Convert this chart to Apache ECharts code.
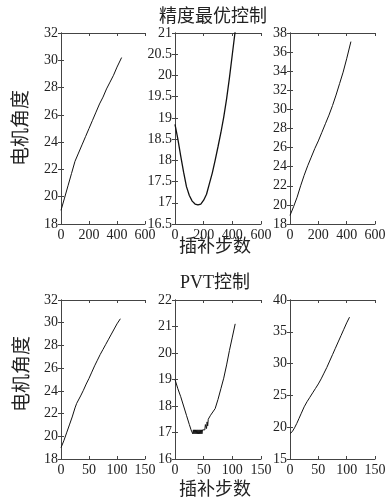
<!DOCTYPE html>
<html>
<head>
<meta charset="utf-8">
<style>
  html, body { margin: 0; padding: 0; background: #fff; }
  #chart { width: 389px; height: 504px; }
</style>
<script src="https://cdn.jsdelivr.net/npm/echarts@6/dist/echarts.min.js"></script>
</head>
<body>
<div id="chart"></div>
<script>
// 精度最优控制 (top row), x = 插补步数 0..600
const topSteps1 = [0, 25, 50, 75, 100, 125, 150, 175, 200, 225, 250, 275, 300, 325, 350, 375, 400, 433]
const topAngle1 = [19.0, 19.9, 20.8, 21.7, 22.6, 23.2, 23.8, 24.4, 25.0, 25.6, 26.2, 26.8, 27.3, 27.9, 28.4, 28.9, 29.5, 30.2]

const topSteps2 = [0, 20, 40, 60, 80, 100, 120, 140, 160, 180, 200, 220, 240, 260, 280, 300, 320, 340, 360, 380, 400, 420, 433]
const topAngle2 = [18.85, 18.5, 18.1, 17.72, 17.38, 17.17, 17.04, 16.97, 16.95, 16.97, 17.06, 17.2, 17.45, 17.7, 18.0, 18.32, 18.65, 19.02, 19.45, 19.95, 20.5, 21.05, 21.4]

const topSteps3 = [0, 25, 50, 75, 100, 125, 150, 175, 200, 225, 250, 275, 300, 325, 350, 375, 400, 430]
const topAngle3 = [18.9, 19.8, 20.8, 22.0, 23.1, 24.1, 25.0, 25.9, 26.7, 27.6, 28.5, 29.4, 30.4, 31.5, 32.7, 33.9, 35.3, 37.1]

// PVT控制 (bottom row), x = 插补步数 0..150
const pvtSteps1 = [0, 5, 10, 15, 20, 25, 28, 30, 35, 40, 45, 50, 55, 60, 65, 70, 75, 80, 85, 90, 95, 100, 106]
const pvtAngle1 = [19.0, 19.6, 20.3, 21.0, 21.7, 22.5, 22.9, 23.05, 23.55, 24.05, 24.6, 25.1, 25.65, 26.2, 26.7, 27.2, 27.65, 28.1, 28.55, 29.0, 29.45, 29.9, 30.35]

const pvtSteps2 = [0, 5, 10, 15, 20, 25, 28, 30, 31, 32, 33, 34, 35, 36, 37, 38, 39, 40, 41, 42, 43, 44, 45, 46, 47, 48, 50, 52, 53, 55, 56, 57, 58, 60, 62, 65, 70, 75, 80, 85, 90, 95, 100, 105]
const pvtAngle2 = [19.0, 18.65, 18.35, 18.0, 17.65, 17.3, 17.1, 17.1, 16.95, 17.1, 16.95, 17.1, 16.95, 17.1, 16.95, 17.1, 16.95, 17.1, 16.95, 17.1, 16.95, 17.1, 16.95, 17.1, 16.95, 17.1, 17.1, 17.1, 17.3, 17.15, 17.4, 17.25, 17.5, 17.5, 17.65, 17.7, 17.9, 18.25, 18.65, 19.05, 19.55, 20.1, 20.6, 21.1]

const pvtSteps3 = [0, 4, 8, 12, 16, 20, 25, 30, 35, 40, 45, 50, 55, 60, 65, 70, 75, 80, 85, 90, 95, 100, 105]
const pvtAngle3 = [19.0, 19.3, 19.9, 20.6, 21.4, 22.2, 23.2, 24.0, 24.7, 25.4, 26.1, 26.8, 27.6, 28.5, 29.4, 30.4, 31.4, 32.4, 33.4, 34.4, 35.4, 36.4, 37.3]

// y axis ranges per panel: [min, max, interval]
const yRanges = [
  [18, 32, 2], [16.5, 21, 0.5], [18, 38, 2],
  [18, 32, 2], [16, 22, 1], [15, 40, 5],
]
const xRanges = [[0, 600, 200], [0, 150, 50]]

const curves = [
  [topSteps1, topAngle1], [topSteps2, topAngle2], [topSteps3, topAngle3],
  [pvtSteps1, pvtAngle1], [pvtSteps2, pvtAngle2], [pvtSteps3, pvtAngle3],
]

const chart = echarts.init(document.getElementById('chart'))

const lefts = [61, 175, 290]
const widths = [84, 86, 85]
const rows = [{ top: 33, height: 191 }, { top: 300, height: 159 }]

const frameColor = '#444'
const textColor = '#222'
const serif = '"Liberation Serif", "Times New Roman", serif'
const cjk = '"Noto Sans CJK SC", sans-serif'

const grid = []
const xAxis = []
const yAxis = []
const series = []

for (let i = 0; i < 6; i++) {
  const r = Math.floor(i / 3)
  const c = i % 3
  grid.push({ left: lefts[c], width: widths[c], top: rows[r].top, height: rows[r].height })

  const [xmin, xmax, xint] = xRanges[r]
  const [ymin, ymax, yint] = yRanges[i]
  const tick = { show: true, inside: true, length: 3, lineStyle: { color: frameColor } }
  const line = { show: true, lineStyle: { color: frameColor, width: 1 } }
  const label = { color: textColor, fontFamily: serif, fontSize: 14 }

  // bottom / left axes carry labels, top / right only close the box
  xAxis.push({ gridIndex: i, type: 'value', min: xmin, max: xmax, interval: xint, position: 'bottom',
    axisLine: line, axisTick: tick, splitLine: { show: false },
    axisLabel: Object.assign({ margin: 4 }, label) })
  xAxis.push({ gridIndex: i, type: 'value', min: xmin, max: xmax, interval: xint, position: 'top',
    axisLine: line, axisTick: tick, splitLine: { show: false }, axisLabel: { show: false } })
  yAxis.push({ gridIndex: i, type: 'value', min: ymin, max: ymax, interval: yint, position: 'left',
    axisLine: line, axisTick: tick, splitLine: { show: false },
    axisLabel: Object.assign({ margin: 3 }, label) })
  yAxis.push({ gridIndex: i, type: 'value', min: ymin, max: ymax, interval: yint, position: 'right',
    axisLine: line, axisTick: tick, splitLine: { show: false }, axisLabel: { show: false } })

  const [xs, ys] = curves[i]
  series.push({
    type: 'line',
    xAxisIndex: i * 2,
    yAxisIndex: i * 2,
    data: xs.map((x, k) => [x, ys[k]]),
    showSymbol: false,
    clip: true,
    lineStyle: { color: '#111', width: i === 1 ? 1.3 : 1 },
  })
}

const txt = (text, x, y, size, rotation) => ({
  type: 'text', x, y, rotation: rotation || 0,
  style: { text, fill: textColor, font: `${size}px ${serif.split(',')[0]}, ${cjk}`, align: 'center', verticalAlign: 'middle' },
})

chart.setOption({
  animation: false,
  grid,
  xAxis,
  yAxis,
  series,
  graphic: [
    txt('精度最优控制', 213, 17, 18),
    txt('插补步数', 215, 247, 18),
    txt('PVT控制', 215, 283, 18),
    txt('插补步数', 215, 490, 18),
    txt('电机角度', 22, 128, 19, Math.PI / 2),
    txt('电机角度', 23, 374, 19, Math.PI / 2),
  ],
})
</script>
</body>
</html>
